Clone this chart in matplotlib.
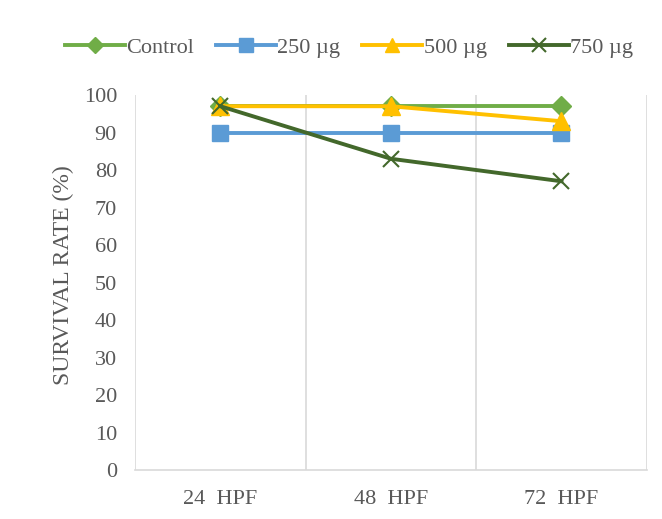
import matplotlib
matplotlib.use('Agg')
import matplotlib.pyplot as plt
import numpy as np

plt.rcParams['font.family'] = ['Liberation Serif', 'DejaVu Serif']

categories = ['24  HPF', '48  HPF', '72  HPF']
control = [97, 97, 97]
ug250 = [90, 90, 90]
ug500 = [97, 97, 93]
ug750 = [97, 83, 77]

gray = '#595959'
fig = plt.figure(figsize=(6.62, 5.19), dpi=100)
ax = fig.add_axes([0.204, 0.094, 0.773, 0.723])

x = np.arange(len(categories))
ax.plot(x, control, color='#70AD47', lw=2.8, marker='D', ms=10, label='Control')
ax.plot(x, ug250, color='#5B9BD5', lw=2.8, marker='s', ms=12, label='250 µg')
ax.plot(x, ug500, color='#FFC000', lw=2.8, marker='^', ms=13, label='500 µg')
ax.plot(x, ug750, color='#43682B', lw=2.8, marker='x', ms=12, mew=1.5, label='750 µg')

ax.set_xlim(-0.5, 2.5)
ax.set_ylim(0, 100)
ax.set_yticks(range(0, 101, 10))
ax.set_xticks(x)
ax.set_xticklabels(categories)
for b in [-0.5, 0.5, 1.5, 2.5]:
    ax.axvline(b, color='#D9D9D9', lw=1.2, zorder=0)
for s in ['top', 'right', 'left']:
    ax.spines[s].set_visible(False)
ax.spines['bottom'].set_color('#D9D9D9')
ax.spines['bottom'].set_linewidth(1.2)
ax.tick_params(length=0, labelsize=16, colors=gray, pad=13)
ax.tick_params(axis='x', pad=14)
ax.set_ylabel('SURVIVAL RATE (%)', fontsize=17, color=gray)
ax.yaxis.set_label_coords(-0.12, 0.52)

fig.legend(loc='center', bbox_to_anchor=(0.527, 0.909), ncol=4, frameon=False,
           fontsize=16, labelcolor=gray, handlelength=2.7, handletextpad=0.05,
           columnspacing=1.0, markerscale=0.8)

fig.savefig('out.png', dpi=100)
